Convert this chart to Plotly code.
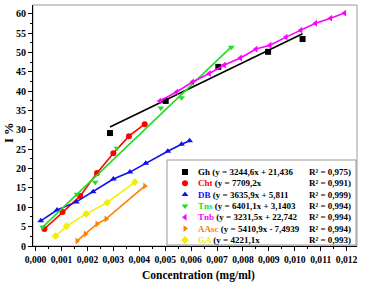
import plotly.graph_objects as go

# ---- data ----
gh_x = [0.00287, 0.00502, 0.00705, 0.00897, 0.0103]
gh_y = [29.2, 37.5, 46.3, 50.2, 53.5]
gh_fit = (3244.6, 21.436)

cht_x = [0.00034, 0.00104, 0.00172, 0.00237, 0.00300, 0.00360, 0.00421]
cht_y = [4.4, 8.8, 12.9, 18.9, 24.0, 28.4, 31.5]

db_x = [0.0002, 0.00083, 0.00157, 0.00222, 0.0030, 0.00364, 0.00425, 0.0051, 0.00563, 0.00594]
db_y = [6.5, 9.3, 11.4, 14.0, 17.3, 19.1, 21.4, 24.5, 26.3, 27.2]

tns_x = [0.00027, 0.0016, 0.0023, 0.00314, 0.00483, 0.00563, 0.00755]
tns_y = [4.9, 13.4, 16.5, 25.3, 35.7, 38.3, 51.4]
tns_fit = (6401.1, 3.1403)

tnb_x = [0.00479, 0.00544, 0.00605, 0.0067, 0.00728, 0.0079, 0.0085, 0.00904, 0.00966, 0.01023, 0.0108, 0.01138, 0.01192]
tnb_y = [37.5, 39.8, 42.4, 44.6, 46.8, 48.6, 50.9, 51.9, 54.0, 55.8, 57.6, 58.9, 60.2]

aasc_x = [0.0016, 0.00192, 0.00237, 0.00272, 0.00421]
aasc_y = [1.3, 3.1, 5.7, 7.0, 15.5]

ga_x = [0.00077, 0.00119, 0.00195, 0.00276, 0.00383]
ga_y = [2.6, 5.1, 8.3, 11.2, 16.5]

names = ["Gh", "Cht", "DB", "Tns", "Tnb", "AAsc", "GA"]
equations = ["(y = 3244,6x + 21,436", "(y = 7709,2x", "(y = 3635,9x + 5,811",
             "(y = 6401,1x + 3,1403", "(y = 3231,5x + 22,742", "(y = 5410,9x - 7,4939",
             "(y = 4221,1x"]
r2 = ["R² = 0,975)", "R² = 0,991)", "R² = 0,999)", "R² = 0,994)", "R² = 0,994)",
      "R² = 0,994)", "R² = 0,993)"]
colors = ["#000000", "#ff0000", "#1010ee", "#22dd22", "#ff00ff", "#ff8000", "#f0f000"]
symbols = ["square", "circle", "triangle-up", "triangle-down", "triangle-left",
           "triangle-right", "diamond"]

x_ticks = [i / 1000 for i in range(0, 13)]
y_ticks = list(range(0, 61, 5))

FONT = "Liberation Serif"
fig = go.Figure()

def add_series(x, y, color, symbol, mode="lines+markers"):
    fig.add_trace(go.Scatter(x=x, y=y, mode=mode,
                             line=dict(color=color, width=1.6),
                             marker=dict(color=color, symbol=symbol, size=6),
                             showlegend=False))

def add_fit(x, fit, color):
    xs = [min(x), max(x)]
    ys = [fit[0] * v + fit[1] for v in xs]
    fig.add_trace(go.Scatter(x=xs, y=ys, mode="lines",
                             line=dict(color=color, width=1.6), showlegend=False))

add_fit(gh_x, gh_fit, colors[0])
add_series(gh_x, gh_y, colors[0], symbols[0], mode="markers")
add_series(cht_x, cht_y, colors[1], symbols[1])
add_series(db_x, db_y, colors[2], symbols[2])
add_fit(tns_x, tns_fit, colors[3])
add_series(tns_x, tns_y, colors[3], symbols[3], mode="markers")
add_series(tnb_x, tnb_y, colors[4], symbols[4])
add_series(aasc_x, aasc_y, colors[5], symbols[5])
add_series(ga_x, ga_y, colors[6], symbols[6])

# legend box
L, R, T, B = 33, 357, 5, 246
W, H = R - L, B - T
def px(xp):
    return (xp - L) / W
def py(yp):
    return (B - yp) / H

row_y = [172, 183.3, 194.6, 206, 217.3, 228.6, 240]
fig.add_shape(type="rect", xref="paper", yref="paper",
              x0=px(167), x1=px(356), y0=py(245), y1=py(160),
              line=dict(color="#999999", width=1), fillcolor="white", layer="below")

fig.add_trace(go.Scatter(x=[px(185)] * 7, y=[py(v) for v in row_y], mode="markers",
                         xaxis="x2", yaxis="y2",
                         marker=dict(color=colors, symbol=symbols, size=6),
                         showlegend=False))

for i in range(7):
    fig.add_annotation(xref="paper", yref="paper", x=px(196), y=py(row_y[i]),
                       xanchor="left", yanchor="middle", showarrow=False,
                       text=f"<span style='color:{colors[i]}'>{names[i]}</span> {equations[i]}",
                       font=dict(family=FONT, size=9, color="black", weight="bold"))
    fig.add_annotation(xref="paper", yref="paper", x=px(353), y=py(row_y[i]),
                       xanchor="right", yanchor="middle", showarrow=False,
                       text=r2[i],
                       font=dict(family=FONT, size=9, color="black", weight="bold"))

# axis titles
fig.add_annotation(xref="paper", yref="paper", x=px(198), y=py(275),
                   xanchor="center", yanchor="middle", showarrow=False,
                   text="Concentration (mg/ml)",
                   font=dict(family=FONT, size=11.5, color="black", weight="bold"))
fig.add_annotation(xref="paper", yref="paper", x=px(9), y=py(133),
                   xanchor="center", yanchor="middle", showarrow=False, textangle=-90,
                   text="I %",
                   font=dict(family=FONT, size=12.5, color="black", weight="bold"))

# frame (top/right gray)
fig.add_shape(type="rect", xref="paper", yref="paper", x0=0, x1=1, y0=0, y1=1,
              line=dict(color="#999999", width=1), layer="below")

tickfont = dict(family=FONT, size=9.6, color="black", weight="bold")
fig.update_layout(
    width=365, height=282,
    margin=dict(l=L, r=365 - R, t=T, b=282 - B),
    paper_bgcolor="white", plot_bgcolor="white",
    separators=",.",
    showlegend=False,
    xaxis=dict(range=[-0.0001, 0.0124], tickvals=x_ticks, tickformat=".3f",
               showgrid=False, zeroline=False, showline=True, linecolor="black",
               linewidth=1, ticks="outside", ticklen=4, tickcolor="black",
               tickfont=tickfont,
               minor=dict(tickvals=[i / 1000 + 0.0005 for i in range(0, 12)],
                          ticks="outside", ticklen=2, tickcolor="black")),
    yaxis=dict(range=[0, 62.3], tickvals=y_ticks, showgrid=False, zeroline=False,
               showline=True, linecolor="black", linewidth=1, ticks="outside",
               ticklen=4, tickcolor="black", tickfont=dict(family=FONT, size=10, color="black", weight="bold"),
               minor=dict(tickvals=[v + 2.5 for v in y_ticks[:-1]] + [62.5],
                          ticks="outside", ticklen=2, tickcolor="black")),
    xaxis2=dict(overlaying="x", range=[0, 1], visible=False),
    yaxis2=dict(overlaying="y", range=[0, 1], visible=False),
)

fig.write_html("out.html")
